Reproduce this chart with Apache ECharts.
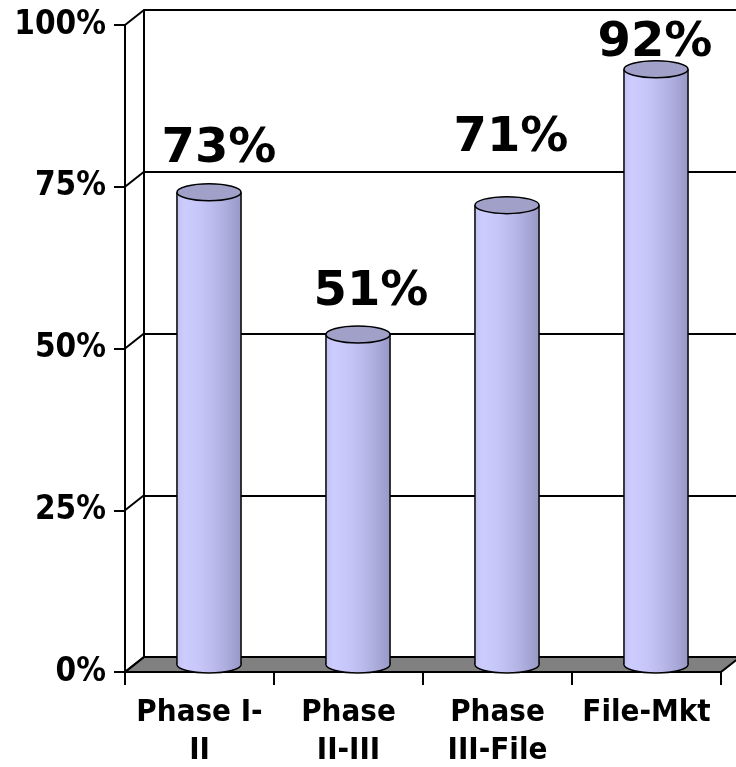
<!DOCTYPE html>
<html>
<head>
<meta charset="utf-8">
<script src="https://cdn.jsdelivr.net/npm/echarts@6/dist/echarts.min.js"></script>
<style>
html,body{margin:0;padding:0;background:#fff;}
#chart{width:736px;height:767px;}
</style>
</head>
<body>
<div id="chart"></div>
<script>
// ---- data ----
var categories = ['Phase I-\nII', 'Phase\nII-III', 'Phase\nIII-File', 'File-Mkt'];
var values = [0.73, 0.51, 0.71, 0.92];
var yTickLabels = ['0%', '25%', '50%', '75%', '100%'];

// ---- layout / style ----
var FRONT = {left: 125, right: 15, top: 25, bottom: 95};
var DX = 19, DY = -15;
var FONT = 'DejaVu Sans';
var FONT_C = '"DejaVu Sans Condensed", "DejaVu Sans"';
// per-bar nudges of the value labels relative to the cylinder top
var labelNudge = [[10, -43], [13, -42], [4, -67], [-1, -26]];

var chart = echarts.init(document.getElementById('chart'));

var bodyGradient = new echarts.graphic.LinearGradient(0, 0, 1, 0, [
  {offset: 0, color: '#C2C2F2'},
  {offset: 0.12, color: '#CCCCFF'},
  {offset: 0.35, color: '#C6C6F8'},
  {offset: 0.55, color: '#BBBBEE'},
  {offset: 0.8, color: '#AAAADA'},
  {offset: 1, color: '#9898C6'}
]);

function renderDecor(params, api) {
  var cs = params.coordSys;
  var x0 = cs.x, y0 = cs.y + cs.height, x1 = cs.x + cs.width;
  var children = [];
  children.push({
    type: 'polygon',
    shape: {points: [[x0, y0], [x1, y0], [x1 + DX, y0 + DY], [x0 + DX, y0 + DY]]},
    style: {fill: '#808080', stroke: '#000', lineWidth: 2}
  });
  for (var i = 0; i < yTickLabels.length; i++) {
    var v = i / (yTickLabels.length - 1);
    var py = api.coord([0, v])[1];
    children.push({
      type: 'line',
      shape: {x1: x0, y1: py, x2: x0 + DX, y2: py + DY},
      style: {stroke: '#000', lineWidth: 2}
    });
  }
  return {type: 'group', children: children};
}

function renderBar(params, api) {
  var idx = api.value(0);
  var v = api.value(1);
  var base = api.coord([idx, 0]);
  var top = api.coord([idx, v]);
  var bandW = api.size([1, 0])[0];
  var rx = bandW * 0.215;
  var ry = 8.5;
  var cx = base[0] + DX / 2;
  var yTop = top[1] + DY / 2;
  var yBot = base[1] + DY / 2;
  var nudge = labelNudge[params.dataIndex] || [0, -40];
  return {
    type: 'group',
    children: [
      {type: 'ellipse', shape: {cx: cx, cy: yBot, rx: rx, ry: ry},
        style: {fill: bodyGradient, stroke: '#000', lineWidth: 1.5}},
      {type: 'rect', shape: {x: cx - rx, y: yTop, width: rx * 2, height: yBot - yTop},
        style: {fill: bodyGradient}},
      {type: 'line', shape: {x1: cx - rx, y1: yTop, x2: cx - rx, y2: yBot},
        style: {stroke: '#000', lineWidth: 1.5}},
      {type: 'line', shape: {x1: cx + rx, y1: yTop, x2: cx + rx, y2: yBot},
        style: {stroke: '#000', lineWidth: 1.5}},
      {type: 'ellipse', shape: {cx: cx, cy: yTop, rx: rx, ry: ry},
        style: {fill: '#A0A0C8', stroke: '#000', lineWidth: 1.5}},
      {type: 'text', x: cx + nudge[0], y: yTop + nudge[1],
        style: {text: Math.round(v * 100) + '%', fill: '#000', font: 'bold 48px "' + FONT + '"',
          align: 'center', verticalAlign: 'middle'}}
    ]
  };
}

var barData = values.map(function (v, i) { return [i, v]; });

var option = {
  backgroundColor: '#fff',
  animation: false,
  grid: [
    {left: FRONT.left, right: FRONT.right, top: FRONT.top, bottom: FRONT.bottom,
      containLabel: false, outerBoundsMode: 'none'},
    {left: FRONT.left + DX, right: FRONT.right - DX, top: FRONT.top + DY, bottom: FRONT.bottom - DY,
      containLabel: false, outerBoundsMode: 'none'}
  ],
  xAxis: [
    {
      type: 'category', gridIndex: 0, data: categories,
      axisLine: {lineStyle: {color: '#000', width: 2}},
      axisTick: {show: true, interval: 0, length: 13, lineStyle: {color: '#000', width: 2}},
      axisLabel: {interval: 0, color: '#000', fontFamily: FONT_C, fontWeight: 'bold', fontSize: 31,
        lineHeight: 38, margin: 22},
      splitLine: {show: false}
    },
    {type: 'category', gridIndex: 1, data: categories, show: false}
  ],
  yAxis: [
    {
      type: 'value', gridIndex: 0, min: 0, max: 1, interval: 0.25,
      axisLine: {show: true, lineStyle: {color: '#000', width: 2}},
      axisTick: {show: true, length: 11, lineStyle: {color: '#000', width: 2}},
      axisLabel: {color: '#000', fontFamily: FONT_C, fontWeight: 'bold', fontSize: 33, margin: 19,
        formatter: function (v) { return yTickLabels[Math.round(v * 4)]; }},
      splitLine: {show: false}
    },
    {
      type: 'value', gridIndex: 1, min: 0, max: 1, interval: 0.25,
      axisLine: {show: true, lineStyle: {color: '#000', width: 2}},
      axisTick: {show: false},
      axisLabel: {show: false},
      splitLine: {show: true, lineStyle: {color: '#000', width: 2}}
    }
  ],
  series: [
    {
      type: 'custom', xAxisIndex: 0, yAxisIndex: 0, renderItem: renderDecor,
      data: [[0, 0]], z: 1, silent: true, clip: false
    },
    {
      type: 'custom', xAxisIndex: 0, yAxisIndex: 0, renderItem: renderBar,
      data: barData, z: 3, clip: false
    }
  ]
};

chart.setOption(option);
</script>
</body>
</html>
